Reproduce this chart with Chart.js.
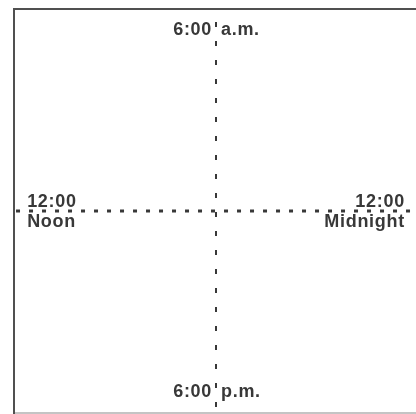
<!DOCTYPE html>
<html lang="en">
<head>
    <meta name="viewport" content="width=device-width, initial-scale=1.0">
    <meta http-equiv="content-type" content="text/html; charset=UTF-8">
    <script src="https://cdn.jsdelivr.net/npm/chart.js"></script>
    <title>Clock Quadrants</title>
    <style>
        body {
            margin: 0;
            background-color: #fff;
            overflow: hidden;
        }
        .chart-container {
            position: relative;
            width: 420px;
            height: 414px;
        }
    </style>
</head>
<body>

<div class="chart-container">
    <canvas id="clock"></canvas>
</div>

<script>
    // hour of day for each label; 0 = right, counter-clockwise, 24 h per turn
    const labelHours = [0, 6, 12, 18];
    const labelTop = ['12:00', '6:00', '12:00', '6:00'];
    const labelBottom = ['Midnight', 'a.m.', 'Noon', 'p.m.'];

    const axisMin = -1;
    const axisMax = 1;

    const ink = '#383838';

    // draws the hour labels around the centre, placed through the scales
    const hourLabels = {
        id: 'hourLabels',
        afterDatasetsDraw(chart) {
            const {ctx, scales: {x, y}} = chart;
            ctx.save();
            ctx.fillStyle = ink;
            ctx.font = 'bold 18px "Liberation Sans", Arial, sans-serif';
            ctx.letterSpacing = '0.7px';
            labelHours.forEach((h, i) => {
                const a = h / 24 * Math.PI * 2;
                const cx = Math.round(Math.cos(a) * 1000) / 1000;
                const cy = Math.round(Math.sin(a) * 1000) / 1000;
                const x0 = x.getPixelForValue(0);
                const y0 = y.getPixelForValue(0);
                if (cx === 0) {
                    // top / bottom: both words on one line, split by the vertical line
                    const py = y.getPixelForValue(cy * 0.895);
                    ctx.textBaseline = 'middle';
                    ctx.textAlign = 'right';
                    ctx.fillText(labelTop[i], x0 - 4, py);
                    ctx.textAlign = 'left';
                    ctx.fillText(labelBottom[i], x0 + 5, py);
                } else {
                    // left / right: two lines, above and below the horizontal line
                    const px = x.getPixelForValue(cx * 0.935);
                    ctx.textAlign = cx < 0 ? 'left' : 'right';
                    ctx.textBaseline = 'alphabetic';
                    ctx.fillText(labelTop[i], px, y0 - 4);
                    ctx.textBaseline = 'top';
                    ctx.fillText(labelBottom[i], px, y0 + 2);
                }
            });
            ctx.restore();
        }
    };

    const ctx = document.getElementById('clock');

    new Chart(ctx, {
        type: 'scatter',
        data: {
            datasets: [{
                label: 'noon-midnight',
                data: [{x: axisMin * 0.99, y: 0}, {x: axisMax * 0.99, y: 0}],
                showLine: true,
                borderColor: ink,
                borderWidth: 3,
                borderDash: [4, 9],
                pointRadius: 0
            }, {
                label: 'morning-evening',
                data: [{x: 0, y: axisMin * 0.97}, {x: 0, y: axisMax * 0.99}],
                showLine: true,
                borderColor: ink,
                borderWidth: 2,
                borderDash: [5, 14],
                pointRadius: 0
            }]
        },
        options: {
            animation: false,
            responsive: true,
            maintainAspectRatio: false,
            layout: {
                padding: {left: 14, top: 9, right: 2, bottom: 1}
            },
            scales: {
                x: {
                    position: 'top',
                    min: axisMin,
                    max: axisMax,
                    grid: {display: false, drawTicks: false},
                    ticks: {display: false},
                    border: {color: '#505050', width: 2}
                },
                x2: {
                    position: 'bottom',
                    min: axisMin,
                    max: axisMax,
                    grid: {display: false, drawTicks: false},
                    ticks: {display: false},
                    border: {color: '#c4c4c4', width: 2}
                },
                y: {
                    position: 'left',
                    min: axisMin,
                    max: axisMax,
                    grid: {display: false, drawTicks: false},
                    ticks: {display: false},
                    border: {color: '#505050', width: 2}
                }
            },
            plugins: {
                legend: {display: false},
                tooltip: {enabled: false}
            }
        },
        plugins: [hourLabels]
    });
</script>

</body>
</html>
